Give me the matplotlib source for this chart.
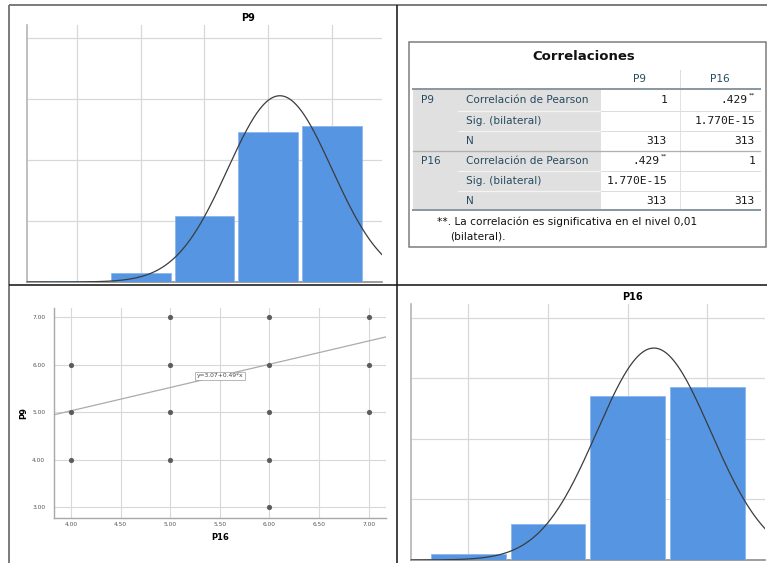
import numpy as np
import matplotlib
matplotlib.use("Agg")
import matplotlib.pyplot as plt
from matplotlib.patches import Rectangle

W, H = 767, 563

# Frequency tables of the two items
p9_values = [3, 4, 5, 6, 7]
p9_counts = [1, 7, 54, 123, 128]
p16_values = [4, 5, 6, 7]
p16_counts = [5, 30, 135, 143]

# Observed (P16, P9) combinations for the scatter plot
scatter_p16 = [4, 4, 4, 5, 5, 5, 5, 6, 6, 6, 6, 6, 7, 7, 7]
scatter_p9 = [6, 5, 4, 7, 6, 5, 4, 7, 6, 5, 4, 3, 7, 6, 5]
fit_intercept = 3.07
fit_slope = 0.49

# Correlation table content
corr_vars = ["P9", "P16"]
corr_stats = ["Correlación de Pearson", "Sig. (bilateral)", "N"]
corr_r = ".429"
corr_sig = "1.770E-15"
corr_n = "313"

BAR = "#5595e2"
BAR_EDGE = "#8cb8ee"
GRID = "#d8d8d8"
HEAD = "#264a60"
TXT = 7.6
NUM_FONT = dict(family="DejaVu Sans Mono", fontsize=8.1, color="#1a1a1a")

fig = plt.figure(figsize=(W / 100, H / 100), dpi=100)
fig.patch.set_facecolor("white")

# Overlay in pixel coordinates for frames and the table
ov = fig.add_axes([0, 0, 1, 1])
ov.set_xlim(0, W)
ov.set_ylim(H, 0)
ov.axis("off")


def px(v):
    return v * 72 / 100


def px_axes(x0, y0, x1, y1):
    return fig.add_axes([x0 / W, 1 - y1 / H, (x1 - x0) / W, (y1 - y0) / H])


def histogram(ax, values, counts, xlim, ylim):
    v = np.array(values, float)
    c = np.array(counts, float)
    n = c.sum()
    mean = (v * c).sum() / n
    sd = np.sqrt(((v - mean) ** 2 * c).sum() / (n - 1))
    ax.set_xlim(*xlim)
    ax.set_ylim(*ylim)
    ax.bar(v, c, width=0.94, color=BAR, edgecolor=BAR_EDGE, linewidth=0.6, zorder=3)
    xs = np.linspace(xlim[0], xlim[1], 500)
    dens = n / (sd * np.sqrt(2 * np.pi)) * np.exp(-0.5 * ((xs - mean) / sd) ** 2)
    ax.plot(xs, dens, color="#3c3c3c", lw=0.9, zorder=4)
    ax.set_xticks(values)
    ax.set_yticks([50, 100, 150, 200])
    ax.grid(True, color=GRID, lw=0.9)
    ax.set_axisbelow(True)
    ax.tick_params(length=0, labelbottom=False, labelleft=False)
    for s in ("top", "right"):
        ax.spines[s].set_visible(False)
    ax.spines["left"].set_color("#b4b4b4")
    ax.spines["left"].set_linewidth(1.2)
    ax.spines["bottom"].set_color("#8c8c8c")
    ax.spines["bottom"].set_linewidth(1.2)
    ax.patch.set_alpha(0)


# Panel frames
ov.plot([8.5, 8.5], [5, H], color="#707070", lw=px(1.8), solid_capstyle="butt")
ov.plot([8.5, W], [5, 5], color="#707070", lw=px(1.8), solid_capstyle="butt")
ov.plot([8.5, W], [285, 285], color="#1a1a1a", lw=px(1.6), solid_capstyle="butt")
ov.plot([397, 397], [5, H], color="#1a1a1a", lw=px(1.6), solid_capstyle="butt")

# Histogram of P9
ax1 = px_axes(27, 25, 382, 282)
histogram(ax1, p9_values, p9_counts, (2.216, 7.784), (0, 210.7))
fig.text(248 / W, 1 - 18 / H, "P9", ha="center", va="center", fontsize=7, fontweight="bold")

# Histogram of P16
ax4 = px_axes(410.7, 304, 765, 560)
histogram(ax4, p16_values, p16_counts, (3.275, 7.725), (0, 211.2))
fig.text(632 / W, 1 - 297 / H, "P16", ha="center", va="center", fontsize=7, fontweight="bold")

# Scatter plot P16 vs P9 with linear fit
ax3 = px_axes(54.3, 307.7, 385.7, 517.7)
ax3.set_xlim(3.832, 7.171)
ax3.set_ylim(2.78, 7.2)
ax3.set_xticks(np.arange(4.0, 7.01, 0.5))
ax3.set_yticks(np.arange(3.0, 7.01, 1.0))
ax3.xaxis.set_major_formatter(matplotlib.ticker.FormatStrFormatter("%.2f"))
ax3.yaxis.set_major_formatter(matplotlib.ticker.FormatStrFormatter("%.2f"))
ax3.tick_params(length=0, labelsize=4.2, labelcolor="#555555")
ax3.tick_params(axis="x", pad=3)
ax3.tick_params(axis="y", pad=6.5)
ax3.grid(True, color=GRID, lw=0.8)
ax3.set_axisbelow(True)
for s in ("top", "right"):
    ax3.spines[s].set_visible(False)
for s in ("left", "bottom"):
    ax3.spines[s].set_color("#a8a8a8")
    ax3.spines[s].set_linewidth(1.0)
ax3.scatter(scatter_p16, scatter_p9, s=14, color="#5c5c5c", zorder=3, linewidths=0)
xl = np.array(ax3.get_xlim())
ax3.plot(xl, fit_intercept + fit_slope * xl, color="#ababab", lw=0.9, zorder=2)
ax3.text(5.5, fit_intercept + fit_slope * 5.5, f"y={fit_intercept:.2f}+{fit_slope:.2f}*x",
         ha="center", va="center", fontsize=4.3, color="#444444", zorder=4,
         bbox=dict(boxstyle="square,pad=0.25", facecolor="white", edgecolor="#9a9a9a", lw=0.5))
ax3.set_xlabel("P16", fontsize=6, fontweight="bold")
ax3.set_ylabel("P9", fontsize=6, fontweight="bold")
ax3.xaxis.set_label_coords(0.5, -0.073)
ax3.yaxis.set_label_coords(-0.079, 0.5)
ax3.patch.set_alpha(0)

# Correlation table
ov.add_patch(Rectangle((409.3, 41.7), 766 - 409.3, 246.7 - 41.7, facecolor="white",
                       edgecolor="#7a7a7a", lw=px(1.5)))
ov.text(584, 56, "Correlaciones", ha="center", va="center", fontsize=9.5, fontweight="bold",
        color="#111111")

tx0, tx_lab, tx_split, tx_mid, tx1 = 413, 458, 600.7, 680, 760
ov.add_patch(Rectangle((tx0, 88.7), tx_split - tx0, 210 - 88.7, facecolor="#e0e0e0",
                       edgecolor="none"))
ov.plot([tx_mid, tx_mid], [70, 88.7], color="#dedede", lw=px(1))
ov.plot([tx_mid, tx_mid], [88.7, 210], color="#e2e2e2", lw=px(1))
ov.text(640, 79.3, corr_vars[0], ha="center", va="center", fontsize=TXT, color=HEAD)
ov.text(720, 79.3, corr_vars[1], ha="center", va="center", fontsize=TXT, color=HEAD)

row_y = [100, 121, 141.3, 161, 181.3, 201]
row_lines = [111, 131, 151, 171, 191]
for i, yl in enumerate(row_lines):
    if i == 2:
        ov.plot([tx0, tx1], [yl, yl], color="#b0b0b0", lw=px(1.3))
    else:
        ov.plot([tx_lab, tx_split], [yl, yl], color="#f4f4f4", lw=px(1.3))
        ov.plot([tx_split, tx1], [yl, yl], color="#dcdcdc", lw=px(1))
ov.plot([tx0, tx1], [88.7, 88.7], color="#8c98a2", lw=px(2))
ov.plot([tx0, tx1], [210, 210], color="#8c98a2", lw=px(2))

col_right = [667, 755]
for g, var in enumerate(corr_vars):
    ov.text(421, row_y[3 * g], var, ha="left", va="center", fontsize=TXT, color=HEAD)
    for k, stat in enumerate(corr_stats):
        y = row_y[3 * g + k]
        ov.text(466, y, stat, ha="left", va="center", fontsize=TXT, color=HEAD)
        for c in range(2):
            xr = col_right[c]
            if k == 0:
                if c == g:
                    ov.text(xr, y, "1", ha="right", va="center", **NUM_FONT)
                else:
                    ov.text(xr - 8, y, corr_r, ha="right", va="center", **NUM_FONT)
                    ov.text(xr, y - 4.5, "**", ha="right", va="center", fontsize=4.5,
                            color="#111111")
            elif k == 1:
                if c != g:
                    ov.text(xr, y, corr_sig, ha="right", va="center", **NUM_FONT)
            else:
                ov.text(xr, y, corr_n, ha="right", va="center", **NUM_FONT)

ov.text(437, 221.7, "**. La correlación es significativa en el nivel 0,01", ha="left",
        va="center", fontsize=TXT, color="#111111")
ov.text(450, 236.5, "(bilateral).", ha="left", va="center", fontsize=TXT, color="#111111")

fig.savefig("out.png", dpi=100)
